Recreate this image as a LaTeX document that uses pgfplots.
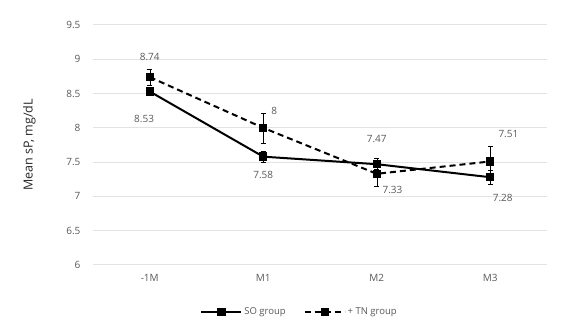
\documentclass[border=0pt]{standalone}
\usepackage{pgfplots}
\pgfplotsset{compat=1.18}
\usepackage{fontspec}
\setmainfont{Open Sans}
\definecolor{txt}{HTML}{595959}
\definecolor{grd}{HTML}{E3E3E3}
\begin{document}
\begin{tikzpicture}[x=1pt,y=1pt]
\useasboundingbox (0,0) rectangle (563,326);
\begin{axis}[
  at={(93pt,61pt)}, anchor=south west,
  scale only axis, width=454pt, height=240pt,
  xmin=-0.5, xmax=3.5, ymin=6, ymax=9.5,
  xtick={0,1,2,3}, xticklabels={-1M,M1,M2,M3},
  ytick={6,6.5,...,9.5},
  yticklabel style={/pgf/number format/fixed, /pgf/number format/precision=1},
  /pgf/number format/assume math mode=true,
  axis line style={draw=none},
  major tick length=0pt,
  ymajorgrids, grid style={grd, line width=1pt},
  tick label style={font=\fontsize{10}{12}\selectfont, text=txt},
  xticklabel style={yshift=-6pt},
  yticklabel style={xshift=-9pt},
  ylabel={Mean sP, mg/dL},
  every axis y label/.style={at={(axis description cs:-0.14,0.5)}, rotate=90, anchor=center},
  ylabel style={font=\fontsize{12.5}{14}\selectfont, text=black!85},
  legend style={at={(axis description cs:0.455,-0.196)}, anchor=center, draw=none, legend columns=2,
    font=\fontsize{9.5}{11}\selectfont, text=txt, inner sep=0pt,
    /tikz/every even column/.append style={column sep=16pt}},
  legend image code/.code={\draw[#1] (0pt,0pt) -- (40pt,0pt); \draw[#1, mark repeat=1] plot coordinates {(20pt,0pt)};},
  clip=false,
]
\addplot[black, line width=2pt, mark=square*, mark size=3.2pt, mark options={solid},
  error bars/.cd, y dir=both, y explicit, error bar style={black, line width=0.5pt}, error mark options={rotate=90, mark size=2.5pt, black, line width=0.5pt}]
  coordinates {(0,8.53) +- (0,0.06) (1,7.58) +- (0,0.08) (2,7.47) +- (0,0.08) (3,7.28) +- (0,0.1)};
\addlegendentry{SO group}
\addplot[black, line width=2pt, dashed, dash pattern=on 6pt off 4pt, mark=square*, mark size=3.2pt, mark options={solid},
  error bars/.cd, y dir=both, y explicit, error bar style={black, line width=0.5pt, solid}, error mark options={rotate=90, mark size=2.5pt, black, line width=0.5pt, solid}]
  coordinates {(0,8.74) +- (0,0.12) (1,8.00) +- (0,0.22) (2,7.33) +- (0,0.18) (3,7.51) +- (0,0.22)};
\addlegendentry{+ TN group}
\begin{scope}[every node/.style={font=\fontsize{10}{12}\selectfont, text=txt}]
\node[above] at (axis cs:0,8.93) {8.74};
\node[below] at (axis cs:-0.05,8.24) {8.53};
\node[right] at (axis cs:1.04,8.25) {8};
\node[below] at (axis cs:1,7.42) {7.58};
\node[above] at (axis cs:2,7.74) {7.47};
\node[right] at (axis cs:2.02,7.09) {7.33};
\node[above] at (axis cs:3.16,7.80) {7.51};
\node[below] at (axis cs:3.11,7.08) {7.28};
\end{scope}
\end{axis}
\end{tikzpicture}
\end{document}
